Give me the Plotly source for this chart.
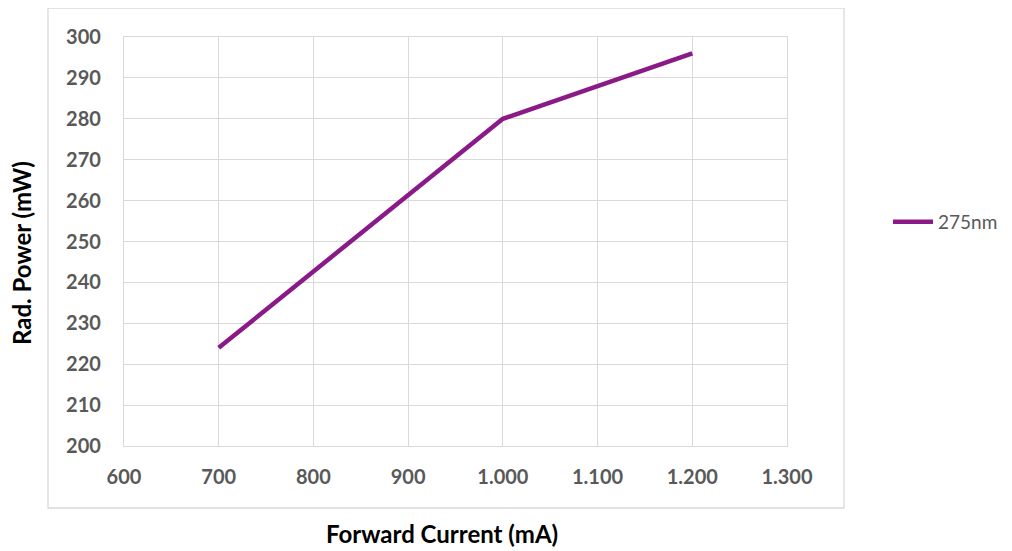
import plotly.graph_objects as go

current_ma = [700, 1000, 1200]
power_mw = [224, 280, 296]
series_name = "275nm"
x_ticks = [600, 700, 800, 900, 1000, 1100, 1200, 1300]
y_ticks = [200, 210, 220, 230, 240, 250, 260, 270, 280, 290, 300]

OFF = 8  # page body margin
W, H = 1012, 551
L, R, T, B = 124 - OFF, 787 - OFF, 37 - OFF, 446 - OFF
pw, ph = R - L, B - T

def px(x):
    return (x - OFF - L) / pw

def py(y):
    return (B - (y - OFF)) / ph

fig = go.Figure()
fig.add_trace(go.Scatter(
    x=current_ma, y=power_mw, mode="lines", name=series_name,
    line=dict(color="#8B1A89", width=4.5),
))

FONT = "Lato, Open Sans, sans-serif"
axis_font = dict(family=FONT, size=20, color="#595959", weight="bold")
fig.update_layout(
    width=W, height=H,
    margin=dict(l=L, r=W - R, t=T, b=H - B),
    paper_bgcolor="white", plot_bgcolor="white",
    separators=",.",
    showlegend=True,
    legend=dict(x=px(888), y=py(222), xanchor="left", yanchor="middle",
                font=dict(family=FONT, size=19, color="#595959"),
                bgcolor="rgba(0,0,0,0)", itemwidth=40),
    xaxis=dict(range=[600, 1300], tickvals=x_ticks, tickformat=",d",
               showgrid=True, gridcolor="#d9d9d9", gridwidth=1.3,
               showline=True, linecolor="#d9d9d9", linewidth=1.3, mirror=True,
               zeroline=False, ticks="", tickfont=axis_font, ticklabelstandoff=13),
    yaxis=dict(range=[200, 300], tickvals=y_ticks,
               showgrid=True, gridcolor="#d9d9d9", gridwidth=1.3,
               showline=True, linecolor="#d9d9d9", linewidth=1.3, mirror=True,
               zeroline=False, ticks="", tickfont=axis_font, ticklabelstandoff=18),
    shapes=[dict(type="rect", xref="paper", yref="paper",
                 x0=px(48), x1=px(844), y0=py(508), y1=py(8),
                 line=dict(color="#d9d9d9", width=1.3), fillcolor="rgba(0,0,0,0)",
                 layer="below")],
    annotations=[
        dict(text="<b>Forward Current (mA)</b>", xref="paper", yref="paper",
             x=px(442), y=py(533), xanchor="center", yanchor="middle", showarrow=False,
             font=dict(family=FONT, size=24, color="#000000")),
        dict(text="<b>Rad. Power (mW)</b>", xref="paper", yref="paper",
             x=px(21), y=py(253), xanchor="center", yanchor="middle", showarrow=False,
             textangle=-90,
             font=dict(family=FONT, size=24, color="#000000")),
    ],
)

fig.write_html("out.html")
